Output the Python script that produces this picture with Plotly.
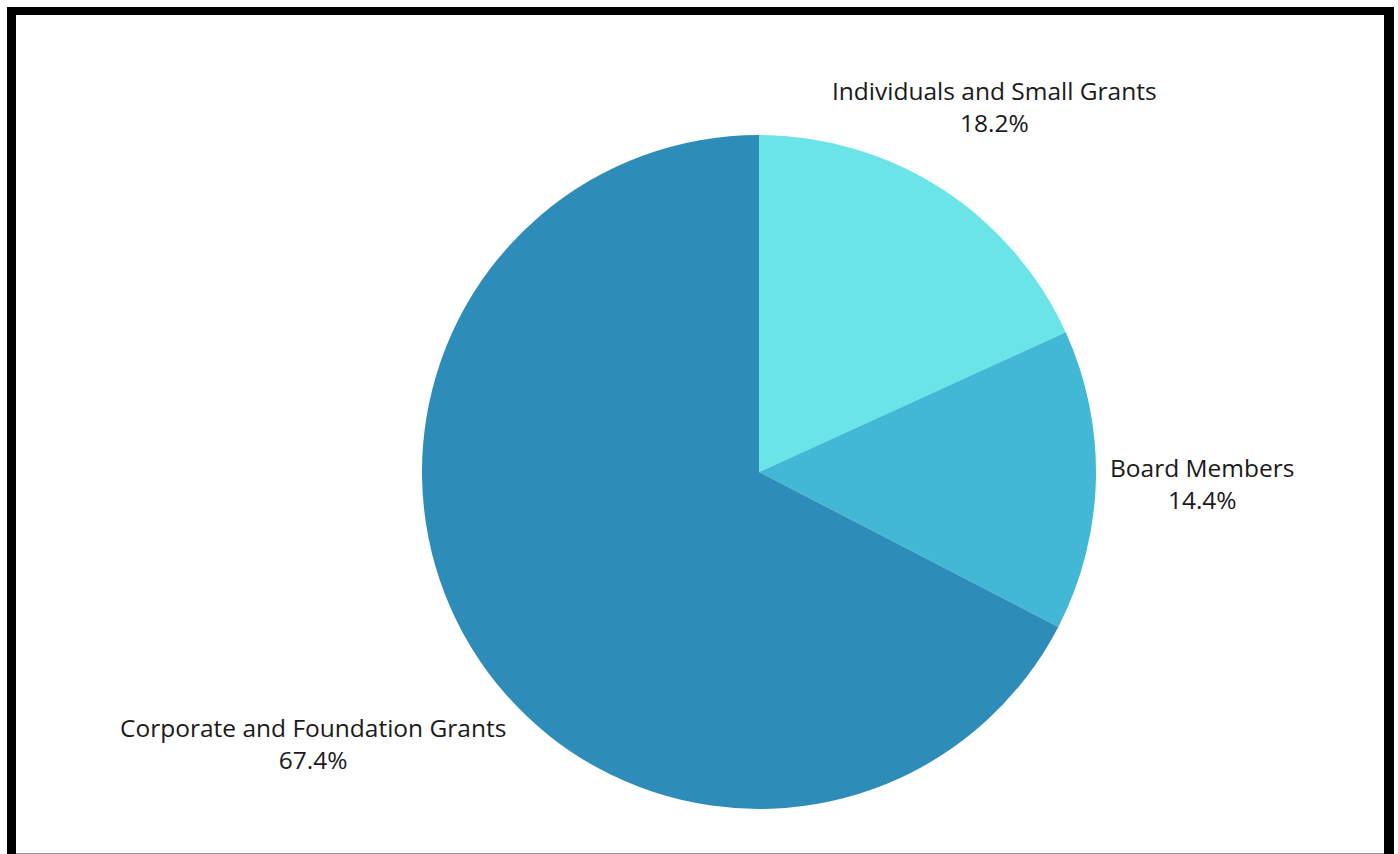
import math
import plotly.graph_objects as go

labels = ["Individuals and Small Grants", "Board Members", "Corporate and Foundation Grants"]
values = [18.2, 14.4, 67.4]
colors = ["#6BE4E8", "#42B7D6", "#2E8CB9"]
label_dist = [1.29, 1.315, 1.548]  # label distance from centre, in pie radii

W, H = 1398, 854
cx, cy, r = 759, 472, 337

fig = go.Figure(go.Pie(
    labels=labels,
    values=values,
    sort=False,
    direction="clockwise",
    rotation=0,
    marker=dict(colors=colors, line=dict(width=0)),
    textinfo="none",
    showlegend=False,
    hoverinfo="skip",
    domain=dict(x=[(cx - r) / W, (cx + r) / W], y=[1 - (cy + r) / H, 1 - (cy - r) / H]),
))

total = sum(values)
annotations = []
cum = 0.0
for lab, v, f in zip(labels, values, label_dist):
    mid = (cum + v / 2) / total * 2 * math.pi
    cum += v
    px = cx + f * r * math.sin(mid)
    py = cy - f * r * math.cos(mid)
    annotations.append(dict(
        x=px / W, y=1 - py / H, xref="paper", yref="paper",
        text=f"{lab}<br>{v / total * 100:.1f}%",
        showarrow=False, xanchor="center", yanchor="middle", align="center",
        font=dict(family="Open Sans", size=24.5, color="#1a1a1a"),
    ))

shapes = [
    dict(type="rect", xref="paper", yref="paper", x0=7 / W, x1=16 / W, y0=0, y1=1 - 7 / H,
         fillcolor="black", line=dict(width=0)),
    dict(type="rect", xref="paper", yref="paper", x0=7 / W, x1=1394 / W, y0=1 - 15 / H, y1=1 - 7 / H,
         fillcolor="black", line=dict(width=0)),
    dict(type="rect", xref="paper", yref="paper", x0=1384 / W, x1=1394 / W, y0=0, y1=1 - 7 / H,
         fillcolor="black", line=dict(width=0)),
    dict(type="line", xref="paper", yref="paper", x0=16 / W, x1=1384 / W, y0=0.5 / H, y1=0.5 / H,
         line=dict(color="#999999", width=1)),
]

fig.update_layout(
    width=W, height=H,
    margin=dict(l=0, r=0, t=0, b=0),
    paper_bgcolor="white",
    plot_bgcolor="white",
    shapes=shapes,
    annotations=annotations,
)

fig.write_html("out.html")
